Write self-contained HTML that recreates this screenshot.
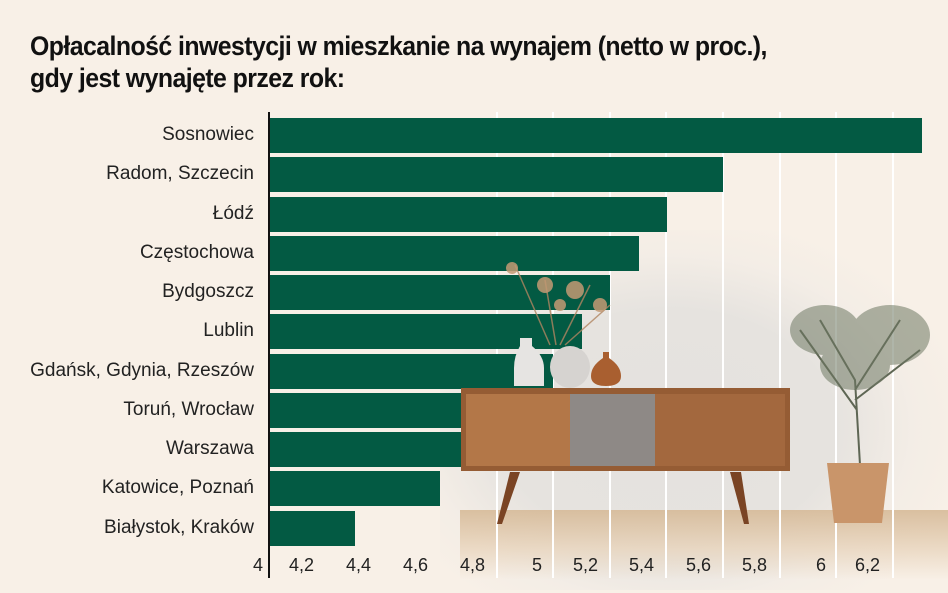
<!DOCTYPE html>
<html><head><meta charset="utf-8"><style>
body{margin:0;width:948px;height:593px;overflow:hidden;background:#f8f0e7;font-family:"Liberation Sans",sans-serif;position:relative}
.t{position:absolute;left:30px;top:30px;font-size:27px;font-weight:bold;line-height:32px;color:#111;letter-spacing:-0.6px;transform:scaleX(0.92);transform-origin:left}
.lab{position:absolute;right:694px;font-size:19px;color:#222;text-align:right;white-space:nowrap}
.bar{position:absolute;left:269px;height:35px;background:#035a43}
.g{position:absolute;top:112px;width:2px;height:466px;background:#fff}
.tk{position:absolute;top:555px;font-size:18px;color:#222}
</style></head><body>
<div style="position:absolute;left:440px;top:230px;width:508px;height:360px;background:radial-gradient(ellipse 60% 60% at 45% 55%,#e4e2df 0,#e6e3df 55%,rgba(240,235,229,.6) 80%,rgba(248,240,231,0) 100%)"></div>
<div style="position:absolute;left:460px;top:510px;width:488px;height:70px;background:linear-gradient(180deg,rgba(214,186,152,.9),rgba(232,212,188,.8) 55%,rgba(248,240,231,0)),linear-gradient(90deg,#f8f0e7,transparent 10%,transparent 88%,#f8f0e7)"></div>
<div class="g" style="left:496px"></div><div class="g" style="left:552px"></div><div class="g" style="left:609px"></div><div class="g" style="left:665px"></div><div class="g" style="left:722px"></div><div class="g" style="left:779px"></div><div class="g" style="left:835px"></div><div class="g" style="left:892px"></div>
<div class="t">Opłacalność inwestycji w mieszkanie na wynajem (netto w proc.),<br>gdy jest wynajęte przez rok:</div>
<div class="bar" style="top:118px;width:653px"></div>
<div class="bar" style="top:157px;width:454px"></div>
<div class="bar" style="top:197px;width:398px"></div>
<div class="bar" style="top:236px;width:370px"></div>
<div class="bar" style="top:275px;width:341px"></div>
<div class="bar" style="top:314px;width:313px"></div>
<div class="bar" style="top:354px;width:284px"></div>
<div class="bar" style="top:393px;width:260px"></div>
<div class="bar" style="top:432px;width:260px"></div>
<div class="bar" style="top:471px;width:171px"></div>
<div class="bar" style="top:511px;width:86px"></div>
<div style="position:absolute;left:268px;top:112px;width:2px;height:466px;background:#111"></div>
<div class="lab" style="top:124px">Sosnowiec</div>
<div class="lab" style="top:163px">Radom, Szczecin</div>
<div class="lab" style="top:203px">Łódź</div>
<div class="lab" style="top:242px">Częstochowa</div>
<div class="lab" style="top:281px">Bydgoszcz</div>
<div class="lab" style="top:320px">Lublin</div>
<div class="lab" style="top:360px">Gdańsk, Gdynia, Rzeszów</div>
<div class="lab" style="top:399px">Toruń, Wrocław</div>
<div class="lab" style="top:438px">Warszawa</div>
<div class="lab" style="top:477px">Katowice, Poznań</div>
<div class="lab" style="top:517px">Białystok, Kraków</div>
<div class="tk" style="left:253px">4</div><div class="tk" style="left:289px">4,2</div><div class="tk" style="left:346px">4,4</div><div class="tk" style="left:403px">4,6</div><div class="tk" style="left:460px">4,8</div><div class="tk" style="left:532px">5</div><div class="tk" style="left:573px">5,2</div><div class="tk" style="left:629px">5,4</div><div class="tk" style="left:686px">5,6</div><div class="tk" style="left:742px">5,8</div><div class="tk" style="left:816px">6</div><div class="tk" style="left:855px">6,2</div>
<svg style="position:absolute;left:0;top:0" width="948" height="593">
<g stroke="#b08560" stroke-width="1.5" fill="none" opacity=".8"><path d="M550 345 L515 265 M556 345 L545 280 M560 345 L590 285 M565 345 L610 305"/></g>
<g fill="#c39a74" opacity=".85"><circle cx="512" cy="268" r="6"/><circle cx="545" cy="285" r="8"/><circle cx="575" cy="290" r="9"/><circle cx="600" cy="305" r="7"/><circle cx="560" cy="305" r="6"/></g>
<path d="M520 338 h12 v8 q12 10 12 22 v18 h-30 v-18 q0 -12 6 -22z" fill="#e6e4e2"/>
<ellipse cx="570" cy="367" rx="20" ry="21" fill="#d6d3d0"/>
<path d="M603 352 h6 v6 q12 8 12 18 q0 10 -15 10 q-15 0 -15 -10 q0 -10 12 -18z" fill="#a95f30"/>
<rect x="461" y="388" width="329" height="83" fill="#955c34"/>
<rect x="466" y="394" width="104" height="72" fill="#b37748"/>
<rect x="570" y="394" width="85" height="72" fill="#8e8986"/>
<rect x="655" y="394" width="130" height="72" fill="#a3683e"/>
<path d="M510 472 l-13 52 h5 l18 -52z M730 472 l14 52 h5 l-8 -52z" fill="#7a4424"/>
<g stroke="#5e6654" stroke-width="2" fill="none"><path d="M860 465 L855 380 L820 320 M855 390 L900 320 M857 410 L800 330 M855 400 L920 350"/></g>
<g fill="#6f7964" opacity=".55"><ellipse cx="825" cy="330" rx="35" ry="25"/><ellipse cx="890" cy="335" rx="40" ry="30"/><ellipse cx="855" cy="365" rx="35" ry="25"/></g>
<path d="M827 463 h62 l-7 60 h-48z" fill="#c9956a"/>
</svg>
</body></html>
